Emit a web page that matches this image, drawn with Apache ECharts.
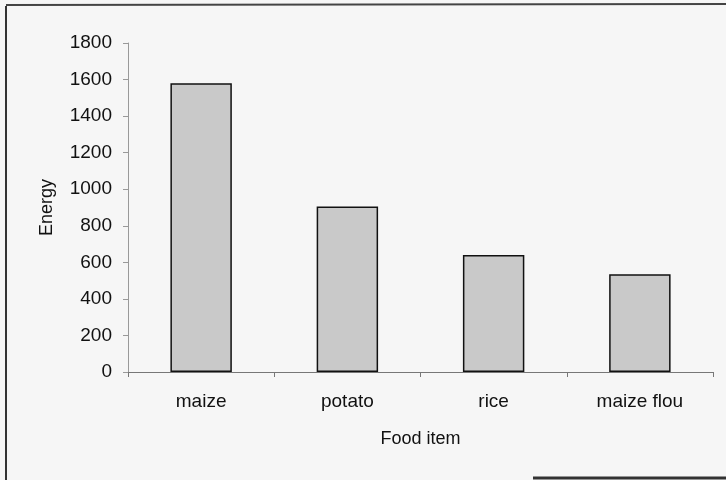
<!DOCTYPE html>
<html><head><meta charset="utf-8">
<script src="https://cdn.jsdelivr.net/npm/echarts@6/dist/echarts.min.js"></script>
<style>html,body{margin:0;padding:0;background:#f6f6f6}#c{width:726px;height:480px}</style>
</head><body><div id="c"></div>
<script>
const categories = ['maize', 'potato', 'rice', 'maize flou'];
const energy = [1580, 905, 640, 535];
const yTicks = [0, 200, 400, 600, 800, 1000, 1200, 1400, 1600, 1800];

const chart = echarts.init(document.getElementById('c'));
chart.setOption({
  backgroundColor: '#f6f6f6',
  animation: false,
  textStyle: { fontFamily: 'Liberation Sans, Arial, sans-serif' },
  graphic: [
    { type: 'line', shape: { x1: 6, y1: 6, x2: 6, y2: 480 }, style: { stroke: '#333', lineWidth: 2 } },
    { type: 'line', shape: { x1: 6, y1: 5, x2: 726, y2: 4 }, style: { stroke: '#444', lineWidth: 2 } },
    { type: 'line', shape: { x1: 533, y1: 478, x2: 726, y2: 478 }, style: { stroke: '#333', lineWidth: 3 } }
  ],
  grid: { left: 128, right: 13, top: 43, bottom: 108 },
  xAxis: {
    type: 'category',
    data: categories,
    name: 'Food item',
    nameLocation: 'middle',
    nameGap: 58,
    nameTextStyle: { color: '#111', fontSize: 18 },
    axisLine: { lineStyle: { color: '#777', width: 1 } },
    axisTick: { show: true, alignWithLabel: false, length: 5, lineStyle: { color: '#777' } },
    axisLabel: { color: '#111', fontSize: 19, margin: 20 }
  },
  yAxis: {
    type: 'value',
    min: yTicks[0],
    max: yTicks[yTicks.length - 1],
    interval: 200,
    name: 'Energy',
    nameLocation: 'middle',
    nameGap: 72,
    nameTextStyle: { color: '#111', fontSize: 18 },
    axisLine: { show: true, lineStyle: { color: '#999', width: 1 } },
    axisTick: { show: true, length: 5, lineStyle: { color: '#999' } },
    axisLabel: { color: '#111', fontSize: 19, margin: 16, formatter: v => String(v) },
    splitLine: { show: false }
  },
  series: [{
    type: 'bar',
    data: energy,
    barWidth: '42%',
    itemStyle: { color: '#c9c9c9', borderColor: '#111', borderWidth: 1.5 }
  }]
});
</script></body></html>
